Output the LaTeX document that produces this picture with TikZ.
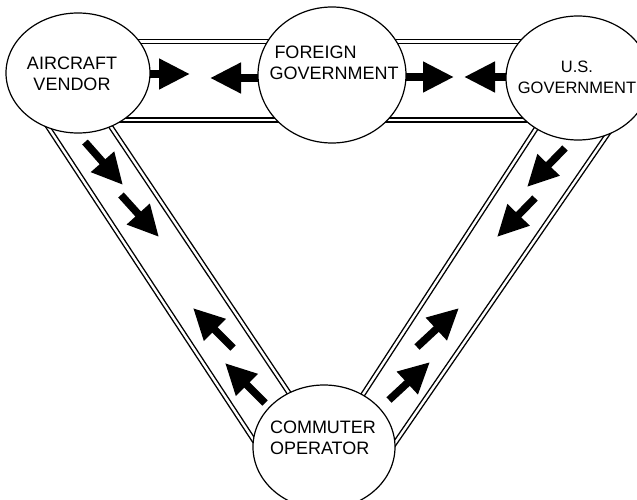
\documentclass[tikz,border=0pt]{standalone}
\usepackage{fontspec}
\setmainfont{Liberation Sans}
\usetikzlibrary{shapes.geometric,arrows.meta}
\begin{document}
\begin{tikzpicture}[x=1pt,y=-1pt,
  ent/.style={ellipse, draw, line width=1.2pt, fill=white, inner sep=0pt},
  lbl/.style={font=\fontsize{18}{21}\selectfont, inner sep=0pt},
  band/.style={line width=1.4pt, double=white, double distance=2.4pt},
  fat/.style={line width=7.5pt, -{Triangle[length=31pt 0 0,width=29pt 0 0]}}]
\useasboundingbox (0,0) rectangle (637,500);
% band edge coordinates
\coordinate (h1a) at (90,41.5);   \coordinate (h1b) at (320,41.5);
\coordinate (h2a) at (90,120);    \coordinate (h2b) at (320,120);
\coordinate (h3a) at (345,41.5);  \coordinate (h3b) at (565,41.5);
\coordinate (h4a) at (345,120);   \coordinate (h4b) at (565,120);
\coordinate (l1a) at (29.8,99.3); \coordinate (l1b) at (272,468);
\coordinate (l2a) at (95.6,104);  \coordinate (l2b) at (304.4,416);
\coordinate (r1a) at (552,104);   \coordinate (r1b) at (347,419);
\coordinate (r2a) at (636,93);    \coordinate (r2b) at (373,475);
\draw[band] (h1a) -- (h1b);
\draw[band] (h2a) -- (h2b);
\draw[band] (h3a) -- (h3b);
\draw[band] (h4a) -- (h4b);
\draw[band] (l1a) -- (l1b);
\draw[band] (l2a) -- (l2b);
\draw[band] (r1a) -- (r1b);
\draw[band] (r2a) -- (r2b);
% arrows
\coordinate (a1t) at (145,74);  \coordinate (a1h) at (190,74);
\coordinate (a2t) at (265,78);  \coordinate (a2h) at (210,78);
\coordinate (a3t) at (402,77);  \coordinate (a3h) at (454,77);
\coordinate (a4t) at (512,77);  \coordinate (a4h) at (464,77);
\coordinate (b1t) at (85,142);  \coordinate (b1h) at (123,185);
\coordinate (b2t) at (121,195); \coordinate (b2h) at (159,237);
\coordinate (b3t) at (233,348); \coordinate (b3h) at (193,308);
\coordinate (b4t) at (265,403); \coordinate (b4h) at (225,363);
\coordinate (c1t) at (565,148); \coordinate (c1h) at (527,187);
\coordinate (c2t) at (535,198); \coordinate (c2h) at (497,237);
\coordinate (c3t) at (417,347); \coordinate (c3h) at (459,308);
\coordinate (c4t) at (389,400); \coordinate (c4h) at (430,362);
\foreach \p in {a1,a2,a3,a4,b1,b2,b3,b4,c1,c2,c3,c4}
  \draw[fat] (\p t) -- (\p h);
% entities
\node[ent, minimum width=144pt, minimum height=120pt] (AV) at (78,73) {};
\node[ent, minimum width=148pt, minimum height=136pt] (FG) at (332,75) {};
\node[ent, minimum width=144pt, minimum height=124pt] (US) at (578,78) {};
\node[ent, minimum width=142pt, minimum height=124pt] (CO) at (324,447) {};
\node[lbl, align=center] (AVt) at (72,74) {AIRCRAFT\\VENDOR};
\node[lbl, align=left] (FGt) at (334,63) {\ FOREIGN\\GOVERNMENT};
\node[lbl, align=center, font=\fontsize{16.5}{21}\selectfont] (USt) at (577,77) {U.S.\\GOVERNMENT};
\node[lbl, align=left] (COt) at (323,438) {COMMUTER\\OPERATOR};
\end{tikzpicture}
\end{document}
